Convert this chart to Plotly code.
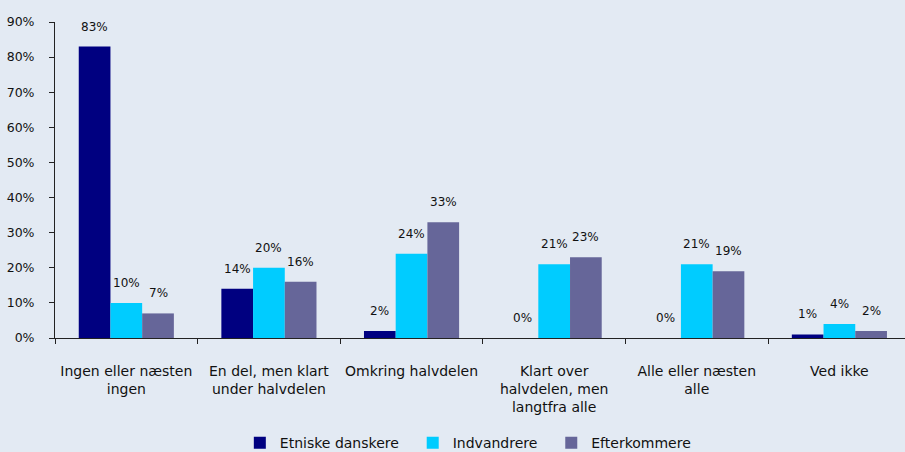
import plotly.graph_objects as go

categories = [
    "Ingen eller næsten<br>ingen",
    "En del, men klart<br>under halvdelen",
    "Omkring halvdelen",
    "Klart over<br>halvdelen, men<br>langtfra alle",
    "Alle eller næsten<br>alle",
    "Ved ikke",
]
series_names = ["Etniske danskere", "Indvandrere", "Efterkommere"]
etniske = [83, 14, 2, 0, 0, 1]
indvandrere = [10, 20, 24, 21, 21, 4]
efterkommere = [7, 16, 33, 23, 19, 2]
colors = ["#000080", "#00CCFF", "#666699"]

values = [etniske, indvandrere, efterkommere]
font = "DejaVu Sans"
bg = "#E3EAF3"
pad = "\u00a0\u00a0"  # widen the gap between legend entries a little

fig = go.Figure()
for i, (name, vals, col) in enumerate(zip(series_names, values, colors)):
    fig.add_trace(go.Bar(
        x=categories, y=vals,
        name=name + (pad if i < len(series_names) - 1 else ""),
        marker=dict(color=col, line=dict(width=0)),
    ))

# value labels above bars
bar_px = 142.6 * (1 - 0.333) / 3
for i, vals in enumerate(values):
    for cat, v in zip(categories, vals):
        fig.add_annotation(
            x=cat, y=v, text=f"{v}%", showarrow=False,
            xshift=(i - 1) * bar_px, yshift=20, yanchor="middle",
            font=dict(family=font, size=12, color="#111111"),
        )

fig.update_layout(
    width=905, height=452,
    paper_bgcolor=bg, plot_bgcolor=bg,
    margin=dict(l=55, r=0, t=22, b=114, autoexpand=False),
    barmode="group", bargap=0.333, bargroupgap=0,
    font=dict(family=font, size=12, color="#111111"),
    showlegend=True,
    legend=dict(
        orientation="h", xref="container", yref="container",
        x=0.265, y=0.055, xanchor="left", yanchor="top",
        font=dict(family=font, size=14), itemwidth=30,
        bgcolor="rgba(0,0,0,0)",
    ),
)
fig.update_xaxes(
    range=[-0.5, 5.46], showline=True, linecolor="#222222", linewidth=1,
    ticks="outside", tickson="boundaries", ticklen=5, tickcolor="#222222",
    ticklabelstandoff=20, showgrid=False, tickfont=dict(size=14),
)
fig.update_yaxes(
    range=[0, 90], dtick=10, ticksuffix="%", showline=True,
    linecolor="#222222", linewidth=1, ticks="outside", ticklen=5,
    tickcolor="#222222", showgrid=False, zeroline=False,
    tickfont=dict(size=12.5), ticklabelstandoff=12,
)

fig.write_html(
    "out.html",
    config={"displayModeBar": False},
    post_script="document.body.style.margin='0';",
)
